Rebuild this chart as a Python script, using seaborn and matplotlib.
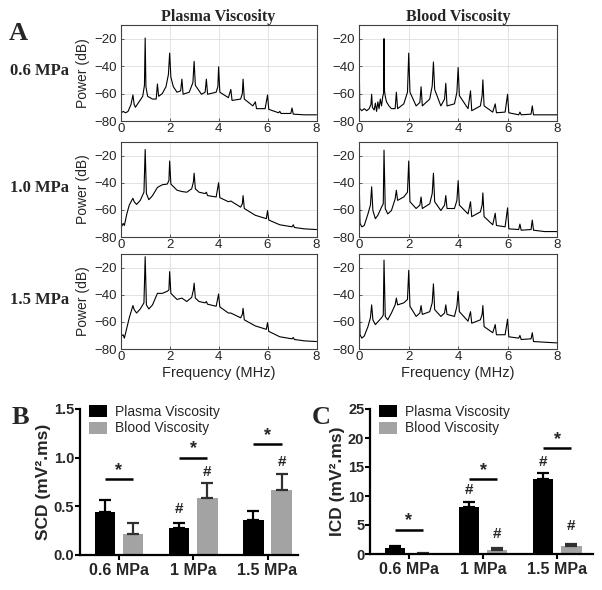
import matplotlib
matplotlib.use("Agg")
import matplotlib.pyplot as plt
import seaborn as sns
import pandas as pd

# ---------------- spectra (frequency in MHz, power in dB) ----------------
pv06_f = [0, 0.03, 0.1, 0.2, 0.3, 0.42, 0.5, 0.55, 0.6, 0.75, 0.9, 0.97, 1.0, 1.03, 1.1, 1.3, 1.45, 1.5, 1.55, 1.7,
          1.85, 1.95, 2.0, 2.05, 2.15, 2.3, 2.45, 2.5, 2.55, 2.8, 2.95, 3.0, 3.05, 3.3, 3.45, 3.5, 3.55, 3.9, 3.97, 4.0,
          4.05, 4.4, 4.5, 4.55, 4.9, 4.97, 5.0, 5.05, 5.4, 5.5, 5.55, 5.9, 6.0, 6.05, 6.45, 6.5, 6.55, 6.95, 7.0, 7.05,
          7.5, 8.0]
pv06_db = [-46, -74, -73, -74, -73, -68, -61, -68, -70, -66, -62, -54, -19.5, -55, -62, -64, -64, -53, -62, -60,
           -55, -46, -30.5, -48, -55, -59, -58, -49.5, -60.5, -59, -52, -36.5, -54, -60.5, -59, -49.5, -60.5, -59, -55,
           -40.5, -59, -63, -57, -65, -64, -60, -49.5, -64, -69, -66, -71, -71, -61, -71.5, -74, -73, -74.5, -74.5,
           -70.5, -75, -75.5, -75.5]

bv06_f = [0, 0.02, 0.1, 0.2, 0.3, 0.4, 0.47, 0.5, 0.53, 0.6, 0.65, 0.7, 0.75, 0.8, 0.85, 0.9, 0.95, 0.98, 1.0, 1.02,
          1.05, 1.1, 1.2, 1.3, 1.45, 1.5, 1.55, 1.8, 1.95, 2.0, 2.05, 2.3, 2.45, 2.5, 2.55, 2.85, 2.95, 3.0, 3.05, 3.3,
          3.45, 3.5, 3.55, 3.85, 3.95, 4.0, 4.05, 4.4, 4.5, 4.55, 4.9, 4.97, 5.0, 5.05, 5.4, 5.5, 5.55, 5.9, 6.0, 6.05,
          6.45, 6.5, 6.55, 6.95, 7.0, 7.05, 7.5, 8.0]
bv06_db = [-42.5, -71, -72.5, -71, -72.5, -71, -68, -60.5, -70, -72, -67, -73, -66, -71, -64, -69, -62, -60, -20, -58,
           -62, -66, -69, -71, -71, -59, -71, -67.5, -59, -30.5, -59, -69, -66.5, -55, -69, -64, -54.5, -37, -57, -69,
           -64, -52.5, -69, -67.5, -59, -41, -61.5, -71, -58, -72.5, -69, -61.5, -50, -69, -73.5, -67.5, -74, -73.5,
           -60.5, -74, -75.5, -73.5, -75.5, -75, -69, -75.5, -75.5, -75.5]

pv10_f = [0, 0.03, 0.1, 0.15, 0.25, 0.35, 0.45, 0.5, 0.55, 0.65, 0.8, 0.95, 1.0, 1.05, 1.15, 1.3, 1.5, 1.7, 1.9, 1.97,
          2.0, 2.05, 2.3, 2.5, 2.7, 2.9, 2.97, 3.0, 3.05, 3.2, 3.45, 3.5, 3.55, 3.9, 4.0, 4.05, 4.4, 4.5, 4.9, 4.97,
          5.0, 5.05, 5.5, 5.95, 6.0, 6.05, 6.5, 7.0, 7.05, 7.1, 7.5, 8.0]
pv10_db = [-44.5, -72.5, -70, -71.5, -63, -56.5, -53, -51.5, -54, -56, -53, -47, -15.5, -48, -52.5, -49.5, -43.5,
           -41.5, -41, -38.5, -24, -41, -45.5, -46.5, -47, -44.5, -39.5, -33, -44.5, -47, -48, -47, -49.5, -50.5, -40,
           -51, -54, -53.5, -58, -55.5, -49.5, -59, -64, -66.5, -60.5, -67.5, -71, -72.5, -71, -73, -74, -74.5]

bv10_f = [0, 0.03, 0.1, 0.2, 0.35, 0.45, 0.5, 0.55, 0.65, 0.75, 0.9, 0.97, 1.0, 1.05, 1.15, 1.3, 1.45, 1.5, 1.55, 1.8,
          1.95, 2.0, 2.05, 2.3, 2.45, 2.5, 2.55, 2.85, 2.95, 3.0, 3.05, 3.3, 3.45, 3.5, 3.55, 3.85, 3.95, 4.0, 4.05,
          4.4, 4.5, 4.55, 4.9, 4.97, 5.0, 5.05, 5.4, 5.5, 5.55, 5.9, 6.0, 6.05, 6.45, 6.5, 6.55, 6.95, 7.0, 7.05, 7.5,
          8.0]
bv10_db = [-43, -70, -72.5, -71.5, -63, -56.5, -43, -60.5, -66.5, -64, -58, -55.5, -16, -59, -63, -60.5, -52, -45.5,
           -53, -50.5, -47, -24, -54, -59, -56.5, -50.5, -59, -55.5, -48, -33, -54, -60.5, -56.5, -49.5, -59, -59, -53,
           -38.5, -56.5, -63, -54, -65, -61.5, -56.5, -47.5, -65, -71, -62.5, -71.5, -72.5, -58.5, -74, -74.5, -70.5,
           -75, -74.5, -67.5, -75, -76, -76]

pv15_f = [0, 0.03, 0.1, 0.15, 0.25, 0.35, 0.45, 0.5, 0.55, 0.65, 0.8, 0.95, 1.0, 1.05, 1.15, 1.3, 1.5, 1.7, 1.9, 1.97,
          2.0, 2.05, 2.3, 2.5, 2.7, 2.9, 2.97, 3.0, 3.05, 3.2, 3.45, 3.5, 3.55, 3.9, 4.0, 4.05, 4.4, 4.5, 4.9, 4.97,
          5.0, 5.05, 5.5, 5.95, 6.0, 6.05, 6.5, 7.0, 7.05, 7.1, 7.5, 8.0]
pv15_db = [-45, -70.5, -69.5, -72, -64.5, -57, -51, -48, -51, -53.5, -50.5, -46, -12, -47.5, -50.5, -47.5, -39, -39,
           -37.5, -36.5, -23, -39, -43.5, -42.5, -45, -42, -36.5, -31.5, -42.5, -45, -46, -45, -47, -48.5, -39.5, -49,
           -53.5, -53.5, -57, -54.5, -50, -58.5, -63, -65.5, -60.5, -67, -71, -72.5, -71.5, -73, -74, -74.5]

bv15_f = [0, 0.03, 0.1, 0.2, 0.35, 0.45, 0.5, 0.55, 0.65, 0.75, 0.9, 0.97, 1.0, 1.05, 1.15, 1.3, 1.45, 1.5, 1.55, 1.8,
          1.95, 2.0, 2.05, 2.3, 2.45, 2.5, 2.55, 2.85, 2.95, 3.0, 3.05, 3.3, 3.45, 3.5, 3.55, 3.85, 3.95, 4.0, 4.05,
          4.4, 4.5, 4.55, 4.9, 4.97, 5.0, 5.05, 5.4, 5.5, 5.55, 5.9, 6.0, 6.05, 6.45, 6.5, 6.55, 6.95, 7.0, 7.05, 7.5,
          8.0]
bv15_db = [-43.5, -69.5, -72, -70.5, -63.5, -57, -47.5, -58.5, -62, -60, -57, -55, -14.5, -56, -58.5, -53.5, -47.5,
           -42.5, -47.5, -46, -43.5, -22, -48.5, -56, -53.5, -48, -54.5, -52.5, -46, -32, -51, -56, -53.5, -47.5, -54.5,
           -56, -48.5, -37.5, -52.5, -59.5, -52.5, -61, -58.5, -54.5, -48, -63.5, -68, -62, -69.5, -69.5, -58, -71,
           -72, -70, -73, -72.5, -68, -74.5, -75, -75.5]

row_labels = ["0.6 MPa", "1.0 MPa", "1.5 MPa"]
col_titles = ["Plasma Viscosity", "Blood Viscosity"]

# ---------------- bar data ----------------
pressures = ["0.6 MPa", "1 MPa", "1.5 MPa"]
groups = ["Plasma Viscosity", "Blood Viscosity"]
scd_plasma = [0.44, 0.28, 0.355]
scd_plasma_err = [0.125, 0.05, 0.10]
scd_blood = [0.22, 0.585, 0.67]
scd_blood_err = [0.11, 0.15, 0.165]
icd_plasma = [0.95, 8.1, 12.9]
icd_plasma_err = [0.35, 0.95, 1.0]
icd_blood = [0.06, 0.65, 1.45]
icd_blood_err = [0.05, 0.35, 0.35]
scd_sig_y = [0.78, 1.0, 1.14]
icd_sig_y = [4.2, 12.9, 18.2]
scd_hash = [(1, 0, 0.47), (1, 1, 0.85), (2, 1, 0.96)]
icd_hash = [(1, 0, 11.0), (1, 1, 3.5), (2, 0, 15.8), (2, 1, 4.8)]

# ---------------- figure ----------------
sns.set_theme(style="white")
plt.rcParams['font.family'] = ['Liberation Sans', 'DejaVu Sans']
SERIF = ['Liberation Serif', 'DejaVu Serif']

W, H = 602, 590
fig = plt.figure(figsize=(W / 100, H / 100), dpi=100)


def rect(l, t, r, b):
    return [l / W, 1 - b / H, (r - l) / W, (b - t) / H]


cols = [(120.7, 316.5), (359.3, 557.0)]
rows = [(25, 121), (142, 237), (254, 349)]
spectra = [[(pv06_f, pv06_db), (bv06_f, bv06_db)],
           [(pv10_f, pv10_db), (bv10_f, bv10_db)],
           [(pv15_f, pv15_db), (bv15_f, bv15_db)]]

for i, (t, b) in enumerate(rows):
    for j, (l, r) in enumerate(cols):
        ax = fig.add_axes(rect(l, t, r, b))
        f, d = spectra[i][j]
        sns.lineplot(x=f, y=d, ax=ax, color='black', lw=0.8, sort=False, estimator=None)
        ax.set_xlim(0, 8)
        ax.set_ylim(-80, -10)
        ax.set_xticks([0, 2, 4, 6, 8])
        ax.set_yticks([-80, -60, -40, -20])
        ax.grid(True, color='#dedede', lw=0.6)
        for s in ax.spines.values():
            s.set_visible(True)
            s.set_color('#404040')
            s.set_linewidth(0.8)
        ax.tick_params(direction='in', length=2.5, width=0.6, color='#404040', labelcolor='#262626',
                       labelsize=9.5, pad=1.5, bottom=True, left=True)
        ax.tick_params(axis='y', pad=3)
        if j == 0:
            ax.set_ylabel('Power (dB)', fontsize=10, color='#262626', labelpad=3)
        else:
            ax.set_ylabel('')
        if i == 2:
            ax.set_xlabel('Frequency (MHz)', fontsize=10.5, color='#262626', labelpad=2)
        else:
            ax.set_xlabel('')
        if i == 0:
            ax.set_title(col_titles[j], family=SERIF, fontweight='bold', fontsize=11.5, pad=3)
    fig.text(40 / W, 1 - ((t + b) / 2 - 2) / H, row_labels[i], family=SERIF, fontweight='bold', fontsize=12,
             ha='center', va='center')

fig.text(18 / W, 1 - 34 / H, 'A', family=SERIF, fontweight='bold', fontsize=19, ha='center', va='center')
fig.text(20 / W, 1 - 417 / H, 'B', family=SERIF, fontweight='bold', fontsize=19, ha='center', va='center')
fig.text(321 / W, 1 - 417 / H, 'C', family=SERIF, fontweight='bold', fontsize=19, ha='center', va='center')


def bar_panel(box, plasma, plasma_err, blood, blood_err, ylim, yticks, yfmt, ylabel, xlim, sig_y, star_off,
              hashes, hash_off):
    ax = fig.add_axes(rect(*box))
    df = pd.DataFrame({'Pressure': pressures * 2,
                       'Group': [groups[0]] * 3 + [groups[1]] * 3,
                       'value': plasma + blood})
    sns.barplot(data=df, x='Pressure', y='value', hue='Group', hue_order=groups, order=pressures,
                palette=['black', '#a3a3a3'], saturation=1, width=0.76, gap=0.28, errorbar=None, ax=ax,
                linewidth=0)
    bars = sorted([p for p in ax.patches if p.get_width() > 0], key=lambda p: p.get_x())
    vals = [v for pair in zip(plasma, blood) for v in pair]
    errs = [e for pair in zip(plasma_err, blood_err) for e in pair]
    centers = [p.get_x() + p.get_width() / 2 for p in bars]
    for k, (c, v, e) in enumerate(zip(centers, vals, errs)):
        ax.errorbar(c, v, yerr=[[0], [e]], color='black' if k % 2 == 0 else '#303030', capsize=4.5,
                    elinewidth=1.6, capthick=1.6, zorder=1)
    for g in range(3):
        c0, c1 = centers[2 * g], centers[2 * g + 1]
        ax.plot([c0, c1], [sig_y[g], sig_y[g]], color='black', lw=1.8, solid_capstyle='butt')
        ax.text((c0 + c1) / 2, sig_y[g] + star_off, '*', ha='center', va='center', fontsize=13,
                fontweight='bold')
    for g, h, y in hashes:
        ax.text(centers[2 * g + h], y + hash_off, '#', ha='center', va='center', fontsize=11, fontweight='bold')
    ax.set_xlim(*xlim)
    ax.set_ylim(*ylim)
    ax.set_yticks(yticks)
    ax.set_yticklabels([yfmt.format(v) for v in yticks])
    ax.set_xlabel('')
    ax.set_ylabel(ylabel, fontsize=12.5, fontweight='bold', labelpad=2)
    for s in ['top', 'right']:
        ax.spines[s].set_visible(False)
    for s in ['left', 'bottom']:
        ax.spines[s].set_color('black')
        ax.spines[s].set_linewidth(1.6)
    ax.tick_params(direction='out', length=3.6, width=1.5, color='black', pad=1,
                   bottom=True, left=True)
    ax.tick_params(axis='x', labelsize=11.5, pad=2)
    ax.tick_params(axis='y', labelsize=10.5, pad=0.5)
    for lab in ax.get_xticklabels() + ax.get_yticklabels():
        lab.set_fontweight('bold')
    handles, labels = ax.get_legend_handles_labels()
    ax.legend(handles, labels, loc='upper left', bbox_to_anchor=(0.04, 1.03), frameon=False, fontsize=10,
              handlelength=1.3, handleheight=0.95, handletextpad=0.6, labelspacing=0.2, borderaxespad=0,
              borderpad=0)
    return ax


bar_panel((80, 409, 298, 555), scd_plasma, scd_plasma_err, scd_blood, scd_blood_err, (0, 1.5),
          [0.0, 0.5, 1.0, 1.5], '{:.1f}', 'SCD (mV\u00b2.ms)', (-0.525, 2.41), scd_sig_y, 0.09, scd_hash, 0.0)
bar_panel((370, 409, 593, 554), icd_plasma, icd_plasma_err, icd_blood, icd_blood_err, (0, 25),
          [0, 5, 10, 15, 20, 25], '{:d}', 'ICD (mV\u00b2.ms)', (-0.525, 2.48), icd_sig_y, 1.5, icd_hash, 0.0)

fig.savefig('out.png', dpi=100)
